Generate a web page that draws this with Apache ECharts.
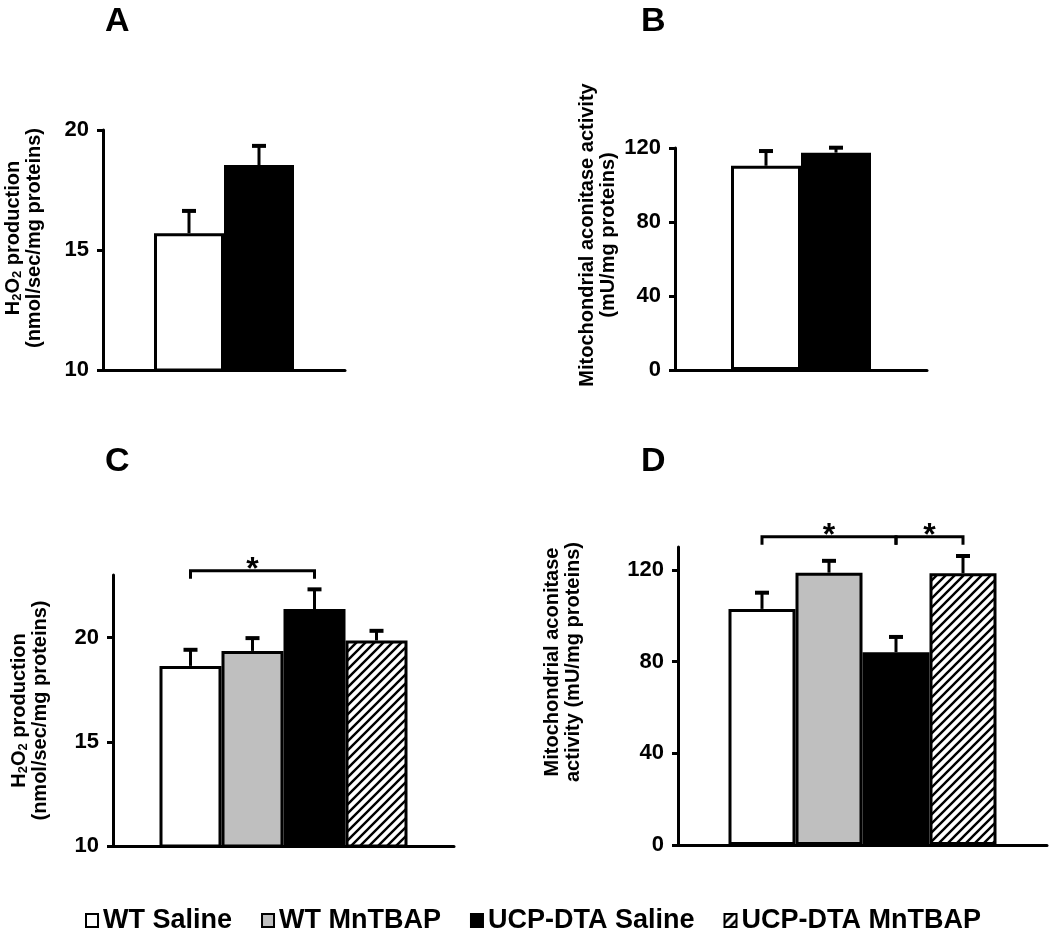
<!DOCTYPE html>
<html><head><meta charset="utf-8">
<script src="https://cdn.jsdelivr.net/npm/echarts@6/dist/echarts.min.js"></script>
<style>html,body{margin:0;padding:0;background:#fff}#c{width:1050px;height:928px}</style>
</head><body><div id="c"></div>
<script>
// ---------- data ----------
const groupNames = ['WT Saline', 'WT MnTBAP', 'UCP-DTA Saline', 'UCP-DTA MnTBAP'];
// Panel A: H2O2 production (WT Saline, UCP-DTA Saline)
const aGroups = [0, 2];
const aMean = [15.7, 18.54];
const aErr = [0.97, 0.84];
const aTicks = [10, 15, 20];
// Panel B: mitochondrial aconitase activity
const bGroups = [0, 2];
const bMean = [110.4, 117.5];
const bErr = [8.5, 3.2];
const bTicks = [0, 40, 80, 120];
// Panel C: H2O2 production, four groups
const cGroups = [0, 1, 2, 3];
const cMean = [18.64, 19.36, 21.37, 19.86];
const cErr = [0.82, 0.66, 0.99, 0.51];
const cTicks = [10, 15, 20];
const cBrackets = [[0, 2, 23.2]];
// Panel D: mitochondrial aconitase activity, four groups
const dGroups = [0, 1, 2, 3];
const dMean = [103.0, 118.8, 84.1, 118.6];
const dErr = [7.5, 5.6, 7.1, 7.9];
const dTicks = [0, 40, 80, 120];
const dBrackets = [[0, 2, 134.5], [2, 3, 134.5]];
const panelLetters = ['A', 'B', 'C', 'D'];

// ---------- styling ----------
const FONT = 'Liberation Sans';
function hatch() {
  const s = 9, cv = document.createElement('canvas');
  cv.width = s; cv.height = s;
  const g = cv.getContext('2d');
  g.fillStyle = '#fff'; g.fillRect(0, 0, s, s);
  g.strokeStyle = '#000'; g.lineWidth = 2.4;
  g.beginPath();
  g.moveTo(-2, s + 2); g.lineTo(s + 2, -2);
  g.moveTo(-2, 2); g.lineTo(2, -2);
  g.moveTo(s - 2, s + 2); g.lineTo(s + 2, s - 2);
  g.stroke();
  return cv;
}
const fills = ['#ffffff', '#bfbfbf', '#000000', { image: hatch(), repeat: 'repeat' }];

const panels = [
  { grid: { left: 103, top: 130, width: 242, height: 240 }, min: 10, max: 20, ticks: aTicks,
    groups: aGroups, mean: aMean, err: aErr, brackets: [], bw: 70,
    name: '{b|H}{s|2}{b|O}{s|2}{b| production}\n{b|(nmol/sec/mg proteins)}', nameGap: 58, namePad: 24 },
  { grid: { left: 675, top: 148, width: 252, height: 222 }, min: 0, max: 120, ticks: bTicks,
    groups: bGroups, mean: bMean, err: bErr, brackets: [], bw: 70,
    name: '{b|Mitochondrial aconitase activity}\n{b|(mU/mg proteins)}', nameGap: 56, namePad: 48 },
  { grid: { left: 113, top: 575, width: 341, height: 271 }, min: 10, max: 23, ticks: cTicks,
    groups: cGroups, mean: cMean, err: cErr, brackets: cBrackets, bw: 62,
    name: '{b|H}{s|2}{b|O}{s|2}{b| production}\n{b|(nmol/sec/mg proteins)}', nameGap: 62, namePad: 0 },
  { grid: { left: 678, top: 547, width: 369, height: 298 }, min: 0, max: 130, ticks: dTicks,
    groups: dGroups, mean: dMean, err: dErr, brackets: dBrackets, bw: 67,
    name: '{b|Mitochondrial aconitase}\n{b|activity (mU/mg proteins)}', nameGap: 94, namePad: 68 }
];

const grids = [], xAxes = [], yAxes = [], series = [];
panels.forEach((p, pi) => {
  grids.push(p.grid);
  xAxes.push({ type: 'category', gridIndex: pi, data: [''], boundaryGap: true,
    axisLine: { lineStyle: { color: '#000', width: 3 } }, axisTick: { show: false }, axisLabel: { show: false } });
  yAxes.push({ type: 'value', gridIndex: pi, min: p.min, max: p.max,
    splitLine: { show: false },
    axisLine: { show: true, lineStyle: { color: '#000', width: 3 } },
    axisTick: { show: true, length: 6, customValues: p.ticks, lineStyle: { color: '#000', width: 3 } },
    axisLabel: { customValues: p.ticks, margin: 14, color: '#000', fontSize: 22, fontWeight: 'bold', fontFamily: FONT },
    name: p.name, nameLocation: 'middle', nameRotate: 90, nameGap: p.nameGap,
    nameTextStyle: { padding: [0, 0, 0, p.namePad], lineHeight: 21,
      rich: {
        b: { fontSize: 20, fontWeight: 'bold', fontFamily: FONT, color: '#000', lineHeight: 21 },
        s: { fontSize: 13, fontWeight: 'bold', fontFamily: FONT, color: '#000', verticalAlign: 'bottom', lineHeight: 16 }
      } } });
  p.groups.forEach((g, k) => {
    series.push({ type: 'bar', name: groupNames[g], xAxisIndex: pi, yAxisIndex: pi,
      data: [p.mean[k]], barWidth: p.bw, barGap: '0%',
      itemStyle: { color: fills[g], borderColor: '#000', borderWidth: 3 },
      emphasis: { disabled: true }, animation: false });
  });
  const n = p.groups.length;
  series.push({ type: 'custom', xAxisIndex: pi, yAxisIndex: pi, z: 5, animation: false, silent: true,
    encode: { x: 0, y: 1 },
    data: p.mean.map((m, k) => [0, m, p.err[k], k]),
    renderItem: (params, api) => {
      const base = api.coord([0, api.value(1)]);
      const top = api.coord([0, api.value(1) + api.value(2)]);
      const x = base[0] + (api.value(3) - (n - 1) / 2) * p.bw;
      return { type: 'group', children: [
        { type: 'line', shape: { x1: x, y1: base[1], x2: x, y2: top[1] }, style: { stroke: '#000', lineWidth: 3 } },
        { type: 'line', shape: { x1: x - 7, y1: top[1] + 1, x2: x + 7, y2: top[1] + 1 }, style: { stroke: '#000', lineWidth: 4 } }
      ] };
    } });
  if (p.brackets.length) {
    series.push({ type: 'custom', xAxisIndex: pi, yAxisIndex: pi, z: 5, animation: false, silent: true, clip: false,
      encode: { x: 0, y: 1 },
      data: p.brackets.map(b => [0, b[2], b[0], b[1]]),
      renderItem: (params, api) => {
        const c = api.coord([0, api.value(1)]);
        const x1 = c[0] + (api.value(2) - (n - 1) / 2) * p.bw;
        const x2 = c[0] + (api.value(3) - (n - 1) / 2) * p.bw;
        const y = c[1];
        return { type: 'group', children: [
          { type: 'polyline', shape: { points: [[x1, y + 8], [x1, y], [x2, y], [x2, y + 8]] },
            style: { stroke: '#000', lineWidth: 3, fill: null } },
          { type: 'text', x: (x1 + x2) / 2, y: y + 15,
            style: { text: '*', fontSize: 32, fontWeight: 'bold', fontFamily: FONT, fill: '#000', align: 'center', verticalAlign: 'bottom' } }
        ] };
      } });
  }
});

const titles = [
  { left: 100, top: 0 }, { left: 636, top: 0 }, { left: 100, top: 440 }, { left: 636, top: 440 }
].map((pos, i) => Object.assign({ text: panelLetters[i],
  textStyle: { fontSize: 34, fontWeight: 'bold', fontFamily: FONT, color: '#000' } }, pos));

const chart = echarts.init(document.getElementById('c'), null, { renderer: 'canvas' });
chart.setOption({
  backgroundColor: '#fff',
  animation: false,
  title: titles,
  legend: { data: groupNames, left: 80, top: 902, itemWidth: 12, itemHeight: 13, itemGap: 29, icon: 'rect',
    itemStyle: { borderColor: '#000', borderWidth: 2 },
    textStyle: { fontSize: 27, fontWeight: 'bold', fontFamily: FONT, color: '#000', padding: [0, 0, 0, 0] } },
  grid: grids, xAxis: xAxes, yAxis: yAxes, series: series
});
</script></body></html>
